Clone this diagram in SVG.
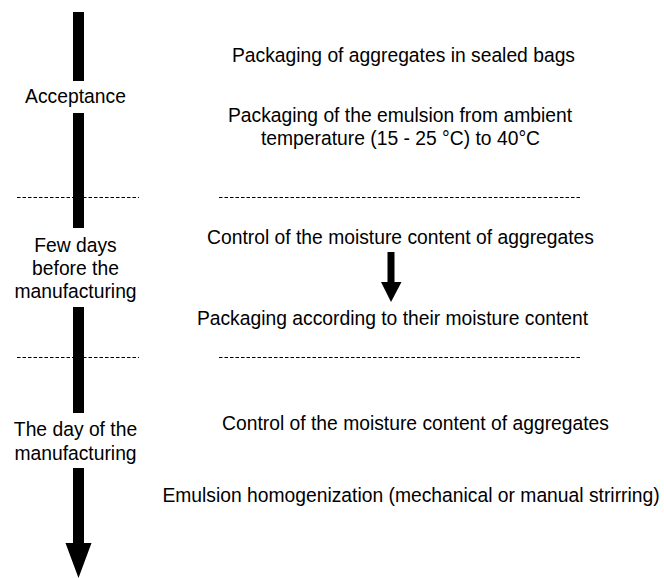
<svg xmlns="http://www.w3.org/2000/svg" width="664" height="578" viewBox="0 0 664 578">
<style>
text{font-family:"Liberation Sans",Arial,sans-serif;font-size:19.3px;fill:#000;text-anchor:middle}
.bar{fill:#000}
.dash{stroke:#000;stroke-width:1;stroke-dasharray:3.5 2;fill:none}
</style>
<rect width="664" height="578" fill="#fff"/>
<g id="connectors">
<rect class="bar" x="73" y="12" width="11" height="69"/>
<rect class="bar" x="73" y="113" width="11" height="115"/>
<rect class="bar" x="73" y="307" width="11" height="106"/>
<path class="bar" d="M73,468 H84 V543 H91.5 L78.5,578 L65.5,543 H73 Z"/>
<path class="bar" d="M387.5,252 H394.5 V282 H401.5 L391,302 L381,282 H387.5 Z"/>
<line class="dash" x1="17" y1="197.5" x2="139" y2="197.5"/>
<line class="dash" x1="219" y1="197.5" x2="580" y2="197.5"/>
<line class="dash" x1="17" y1="357.5" x2="139" y2="357.5"/>
<line class="dash" x1="219" y1="357.5" x2="580" y2="357.5"/>
</g>
<g id="acceptance"><text x="75.5" y="103">Acceptance</text></g>
<g id="few-days"><text x="75.5" y="252">Few days</text><text x="75.5" y="275">before the</text><text x="75.5" y="298">manufacturing</text></g>
<g id="day-of"><text x="75.5" y="436">The day of the</text><text x="75.5" y="460">manufacturing</text></g>
<g id="pack-bags"><text x="403.5" y="62">Packaging of aggregates in sealed bags</text></g>
<g id="pack-emulsion"><text x="400" y="122">Packaging of the emulsion from ambient</text><text x="400.5" y="145">temperature (15 - 25 °C) to 40°C</text></g>
<g id="control1"><text x="400.5" y="244">Control of the moisture content of aggregates</text></g>
<g id="pack-moisture"><text x="392.5" y="325">Packaging according to their moisture content</text></g>
<g id="control2"><text x="415.5" y="430">Control of the moisture content of aggregates</text></g>
<g id="homog"><text x="411" y="502">Emulsion homogenization (mechanical or manual strirring)</text></g>
</svg>
